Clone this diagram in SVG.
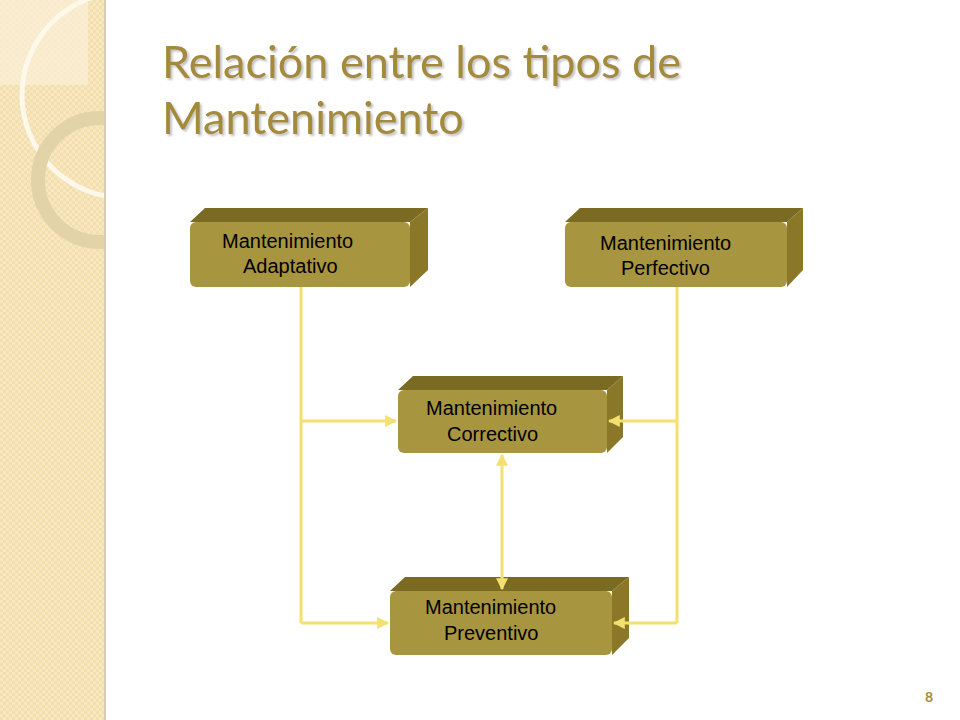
<svg xmlns="http://www.w3.org/2000/svg" width="960" height="720" viewBox="0 0 960 720">
<defs>
<style>
.top{fill:#7a6a22}.side{fill:#8a7828}.front{fill:#a8953f}
.lbl{font-family:Arial,"Liberation Sans",sans-serif;font-size:20px;fill:#000}
.ttl{font-family:Lato,"Open Sans",sans-serif;font-size:45px;fill:#a38b3a}
.con{stroke:#f3e070;stroke-width:3;fill:none}
</style>
<filter id="tsh" x="-5%" y="-20%" width="110%" height="140%"><feDropShadow dx="2" dy="2" stdDeviation="1" flood-color="#999" flood-opacity="0.6"/></filter>
<marker id="ah" viewBox="0 0 10 10" refX="9" refY="5" markerWidth="4" markerHeight="4" orient="auto-start-reverse"><path d="M0,0L10,5L0,10z" fill="#f3e070"/></marker>
<pattern id="chk" width="6" height="6" patternUnits="userSpaceOnUse"><rect width="6" height="6" fill="#f3dfae"/><rect width="3" height="3" fill="#f7e8c2"/><rect x="3" y="3" width="3" height="3" fill="#f7e8c2"/></pattern>
<clipPath id="sb"><rect width="105" height="720"/></clipPath>
</defs>
<rect width="960" height="720" fill="#fff"/>
<g id="sidebar">
<rect width="105" height="720" fill="url(#chk)"/>
<g clip-path="url(#sb)">
<rect x="0" y="0" width="88" height="85" fill="#fbf1dc" opacity="0.6"/>
<circle cx="125" cy="95" r="103" fill="none" stroke="#fdf8ea" stroke-width="5"/>
<circle cx="100" cy="180" r="62" fill="none" stroke="#e3d3a8" stroke-width="14"/>
</g>
<line x1="105" y1="0" x2="105" y2="720" stroke="#d9ccb0" stroke-width="2"/>
</g>
<g id="title" filter="url(#tsh)">
<text class="ttl" x="162" y="78">Relación entre los tipos de</text>
<text class="ttl" x="162" y="134">Mantenimiento</text>
</g>
<g id="adaptativo">
<polygon class="top" points="190,222 205,208 428,208 410,222"/>
<polygon class="side" points="410,222 428,208 428,270 410,287"/>
<rect class="front" x="190" y="222" width="220" height="65" rx="6"/>
<text class="lbl" x="222" y="248">Mantenimiento</text>
<text class="lbl" x="243" y="273">Adaptativo</text>
</g>
<g id="perfectivo">
<polygon class="top" points="565,222 580,208 803,208 787,222"/>
<polygon class="side" points="787,222 803,208 803,270 787,287"/>
<rect class="front" x="565" y="222" width="222" height="65" rx="6"/>
<text class="lbl" x="600" y="250">Mantenimiento</text>
<text class="lbl" x="621" y="275">Perfectivo</text>
</g>
<g id="correctivo">
<polygon class="top" points="398,390 413,376 623,376 607,390"/>
<polygon class="side" points="607,390 623,376 623,437 607,453"/>
<rect class="front" x="398" y="390" width="209" height="63" rx="6"/>
<text class="lbl" x="426" y="415">Mantenimiento</text>
<text class="lbl" x="447" y="441">Correctivo</text>
</g>
<g id="preventivo">
<polygon class="top" points="390,591 405,577 629,577 612,591"/>
<polygon class="side" points="612,591 629,577 629,638 612,655"/>
<rect class="front" x="390" y="591" width="222" height="64" rx="6"/>
<text class="lbl" x="425" y="614">Mantenimiento</text>
<text class="lbl" x="444" y="640">Preventivo</text>
</g>
<g id="connectors" class="con">
<path d="M301,287V623"/>
<path d="M301,421H396" marker-end="url(#ah)"/>
<path d="M301,623H388" marker-end="url(#ah)"/>
<path d="M677,287V623"/>
<path d="M677,421H609" marker-end="url(#ah)"/>
<path d="M677,623H614" marker-end="url(#ah)"/>
<path d="M502,455V589" marker-start="url(#ah)" marker-end="url(#ah)"/>
</g>
<text x="925" y="702" font-family="Lato,sans-serif" font-size="14" font-weight="bold" fill="#a38b3a">8</text>
</svg>
